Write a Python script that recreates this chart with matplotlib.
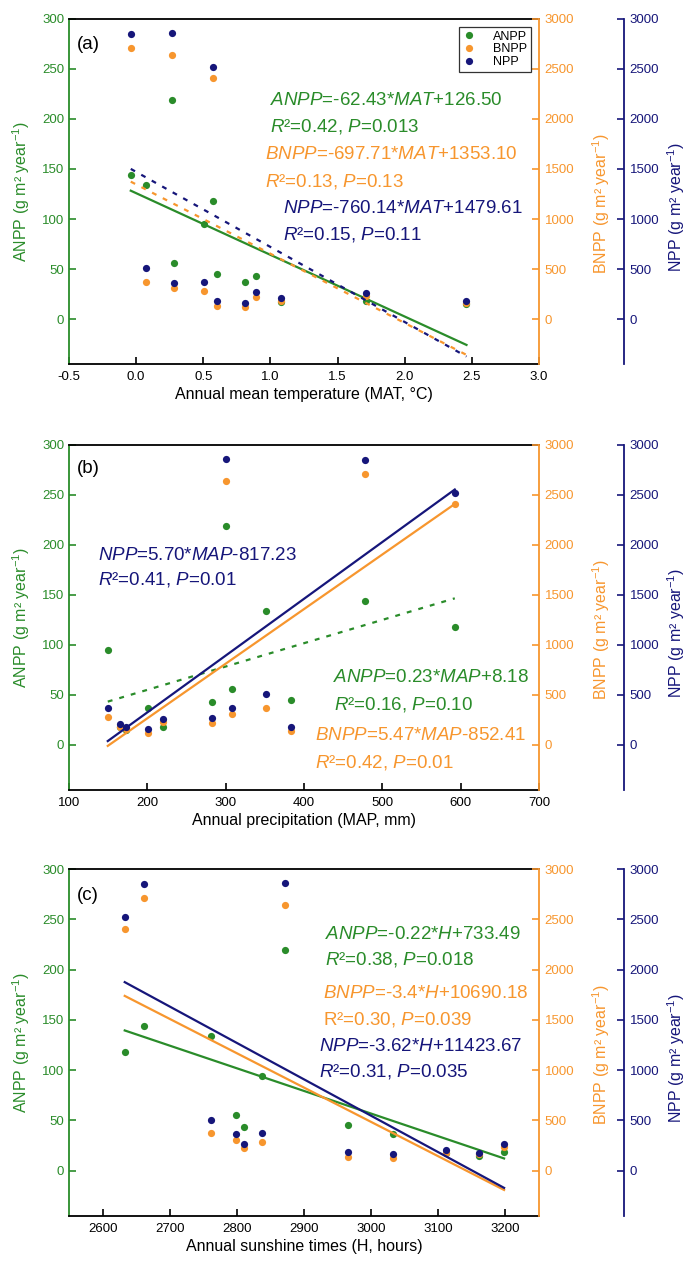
import numpy as np
import matplotlib
matplotlib.use('Agg')
import matplotlib.pyplot as plt
from matplotlib.lines import Line2D

plt.rcParams['font.family'] = 'Liberation Sans'
plt.rcParams['mathtext.fontset'] = 'custom'
plt.rcParams['mathtext.rm'] = 'Liberation Sans'
plt.rcParams['mathtext.it'] = 'Liberation Sans:italic'
plt.rcParams['mathtext.bf'] = 'Liberation Sans:bold'
plt.rcParams['axes.unicode_minus'] = False

# site data (12 sites)
mat = [-0.04, 0.07, 0.27, 0.28, 0.505, 0.57, 0.60, 0.81, 0.89, 1.08, 1.71, 2.46]
map_mm = [478, 351, 300, 308, 149.5, 592.5, 383.5, 201, 282, 165.5, 219.5, 172.8]
sun_h = [2661, 2762, 2872, 2798, 2837, 2633, 2966, 3033, 2811, 3112, 3198, 3160]
anpp = [144.3, 134.4, 219.3, 55.7, 94.6, 118.2, 45.3, 36.6, 43.1, 17.5, 18.2, 15.0]
bnpp = [2710, 373, 2640, 309, 281, 2405, 135, 124, 222, 178, 232, 162]
npp = [2852, 507, 2857, 365, 373, 2523, 184, 164, 270, 207, 262, 180]

GREEN = '#2a8c2a'
ORANGE = '#f7962e'
NAVY = '#16167a'

eq_a = [
    (0.428, 0.765, r'$\mathit{ANPP}$=-62.43*$\mathit{MAT}$+126.50', GREEN),
    (0.428, 0.687, r'$\mathit{R}$²=0.42, $\mathit{P}$=0.013', GREEN),
    (0.417, 0.606, r'$\mathit{BNPP}$=-697.71*$\mathit{MAT}$+1353.10', ORANGE),
    (0.417, 0.528, r'$\mathit{R}$²=0.13, $\mathit{P}$=0.13', ORANGE),
    (0.455, 0.452, r'$\mathit{NPP}$=-760.14*$\mathit{MAT}$+1479.61', NAVY),
    (0.455, 0.374, r'$\mathit{R}$²=0.15, $\mathit{P}$=0.11', NAVY),
]
eq_b = [
    (0.062, 0.681, r'$\mathit{NPP}$=5.70*$\mathit{MAP}$-817.23', NAVY),
    (0.062, 0.609, r'$\mathit{R}$²=0.41, $\mathit{P}$=0.01', NAVY),
    (0.562, 0.325, r'$\mathit{ANPP}$=0.23*$\mathit{MAP}$+8.18', GREEN),
    (0.564, 0.249, r'$\mathit{R}$²=0.16, $\mathit{P}$=0.10', GREEN),
    (0.523, 0.159, r'$\mathit{BNPP}$=5.47*$\mathit{MAP}$-852.41', ORANGE),
    (0.523, 0.081, r'$\mathit{R}$²=0.42, $\mathit{P}$=0.01', ORANGE),
]
eq_c = [
    (0.545, 0.810, r'$\mathit{ANPP}$=-0.22*$\mathit{H}$+733.49', GREEN),
    (0.545, 0.738, r'$\mathit{R}$²=0.38, $\mathit{P}$=0.018', GREEN),
    (0.540, 0.640, r'$\mathit{BNPP}$=-3.4*$\mathit{H}$+10690.18', ORANGE),
    (0.540, 0.565, r'R²=0.30, $\mathit{P}$=0.039', ORANGE),
    (0.532, 0.487, r'$\mathit{NPP}$=-3.62*$\mathit{H}$+11423.67', NAVY),
    (0.532, 0.415, r'$\mathit{R}$²=0.31, $\mathit{P}$=0.035', NAVY),
]

fig = plt.figure(figsize=(6.98, 12.64), dpi=100)

def panel(rect, x, xlim, xticks, xfmt, xlabel, tag, tag_y, dashed, eqs, legend=False):
    ax = fig.add_axes(rect)
    ax2 = ax.twinx()
    ax3 = ax.twinx()
    ax3.spines['right'].set_position(('axes', 1 + 85 / 470))

    x = np.array(x)
    xs = np.array([x.min(), x.max()])
    for a, y, c, d in [(ax, anpp, GREEN, dashed[0]), (ax2, bnpp, ORANGE, dashed[1]),
                       (ax3, npp, NAVY, dashed[2])]:
        a.plot(x, y, 'o', color=c, ms=5.2, mec='none', zorder=3)
        k, b = np.polyfit(x, np.array(y), 1)
        ls = (0, (2.2, 3.2)) if d else '-'
        a.plot(xs, k * xs + b, color=c, lw=1.6, ls=ls, zorder=2)

    ax.set_xlim(*xlim)
    ax.set_xticks(xticks)
    ax.set_xticklabels([xfmt % t for t in xticks])
    ax.set_ylim(-45, 300)
    ax.set_yticks(np.arange(0, 301, 50))
    ax2.set_ylim(-450, 3000)
    ax2.set_yticks(np.arange(0, 3001, 500))
    ax3.set_ylim(-450, 3000)
    ax3.set_yticks(np.arange(0, 3001, 500))

    for s in ['top', 'bottom']:
        ax.spines[s].set_color('black')
        ax.spines[s].set_linewidth(1.3)
    ax.spines['left'].set_color(GREEN)
    ax.spines['left'].set_linewidth(1.3)
    ax.spines['right'].set_visible(False)
    for a, c in [(ax2, ORANGE), (ax3, NAVY)]:
        for s in ['top', 'bottom', 'left']:
            a.spines[s].set_visible(False)
        a.spines['right'].set_color(c)
        a.spines['right'].set_linewidth(1.3)
        a.tick_params(axis='y', direction='in', colors=c, labelsize=9.5, length=5, width=1.2, pad=4)

    ax.tick_params(axis='y', direction='in', colors=GREEN, labelsize=9.5, length=5, width=1.2)
    ax.tick_params(axis='x', direction='in', labelsize=9.5, length=5, width=1.2, pad=5)

    ax.set_xlabel(xlabel, fontsize=11.5, labelpad=3)
    ax.set_ylabel('ANPP (g m² year$^{-1}$)', fontsize=11.5, color=GREEN)
    ax.yaxis.set_label_coords(-0.078, 0.5)
    ax2.set_ylabel('BNPP (g m² year$^{-1}$)', fontsize=11.5, color=ORANGE)
    ax2.yaxis.set_label_coords(1.110, 0.465)
    ax3.set_ylabel('NPP (g m² year$^{-1}$)', fontsize=11.5, color=NAVY)
    ax3.yaxis.set_label_coords(1.268, 0.455)

    ax3.text(0.017, tag_y, tag, transform=ax.transAxes, fontsize=13.5, va='center', ha='left')
    for tx, ty, s, c in eqs:
        ax3.text(tx, ty, s, transform=ax.transAxes, fontsize=13.5, color=c,
                 va='center', ha='left')

    if legend:
        handles = [Line2D([], [], ls='none', marker='o', ms=5.2, mec='none', color=c)
                   for c in [GREEN, ORANGE, NAVY]]
        lg = ax3.legend(handles, ['ANPP', 'BNPP', 'NPP'], loc='upper right',
                        bbox_to_anchor=(1 - 8 / 470, 1 - 8 / 345), borderaxespad=0,
                        fontsize=9, frameon=True, fancybox=False, edgecolor='black',
                        handlelength=0.9, handletextpad=1.5, labelspacing=0.05,
                        borderpad=0.3)
        lg.get_frame().set_linewidth(0.9)
    return ax

L = 69 / 698
W = 470 / 698
panel([L, 0.712, W, 0.273], mat, (-0.5, 3.0), np.arange(-0.5, 3.01, 0.5), '%.1f',
      'Annual mean temperature (MAT, °C)', '(a)', 0.925, [False, True, True], eq_a, legend=True)
panel([L, 0.375, W, 0.273], map_mm, (100, 700), np.arange(100, 701, 100), '%d',
      'Annual precipitation (MAP, mm)', '(b)', 0.933, [True, False, False], eq_b)
panel([L, 0.038, W, 0.2745], sun_h, (2550, 3250), np.arange(2600, 3201, 100), '%d',
      'Annual sunshine times (H, hours)', '(c)', 0.925, [False, False, False], eq_c)

fig.savefig('out.png', dpi=100)
